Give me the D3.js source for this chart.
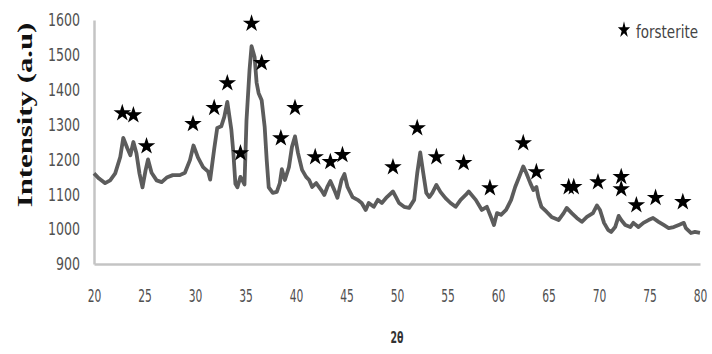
<!DOCTYPE html>
<html>
<head>
<meta charset="utf-8">
<script src="https://cdn.jsdelivr.net/npm/d3@7"></script>
<style>
  body { margin: 0; background: #fff; }
  svg { display: block; }
  .axis text { font-family: "Liberation Sans Narrow", "DejaVu Sans Condensed", sans-serif; font-size: 18px; fill: #505050; }
  .axis .domain { stroke: #c4c4c4; stroke-width: 2.5px; }
</style>
</head>
<body>
<svg width="712" height="354"></svg>
<script>
// diffraction pattern (2theta, intensity)
var twoTheta = [20.0, 20.5, 21.1, 21.6, 22.1, 22.6, 22.9, 23.3, 23.6, 23.9, 24.2, 24.5, 24.8, 25.1, 25.35,
  25.7, 26.2, 26.7, 27.2, 27.8, 28.5, 29.0, 29.5, 29.85, 30.3, 30.8, 31.3, 31.5, 31.9, 32.2,
  32.6, 32.9, 33.2, 33.6, 33.8, 34.0, 34.2, 34.5, 34.7, 34.9, 35.1, 35.4, 35.6, 35.9, 36.1,
  36.3, 36.6, 36.9, 37.1, 37.3, 37.7, 38.1, 38.4, 38.6, 38.9, 39.3, 39.6, 39.9, 40.2, 40.6,
  41.0, 41.3, 41.6, 42.0, 42.5, 42.8, 43.1, 43.4, 43.8, 44.1, 44.5, 44.8, 45.1, 45.6, 46.1,
  46.5, 46.9, 47.2, 47.7, 48.1, 48.5, 49.0, 49.6, 49.9, 50.2, 50.7, 51.2, 51.7, 52.0, 52.3,
  52.6, 52.9, 53.2, 53.5, 53.9, 54.3, 54.8, 55.3, 55.8, 56.3, 56.8, 57.1, 57.8, 58.4, 58.9,
  59.3, 59.6, 59.9, 60.3, 60.8, 61.3, 61.7, 62.1, 62.5, 62.8, 63.2, 63.5, 63.8, 64.0, 64.3,
  64.8, 65.3, 66.0, 66.5, 66.8, 67.3, 67.8, 68.3, 68.8, 69.4, 69.8, 70.1, 70.5, 70.9, 71.2,
  71.6, 71.95, 72.2, 72.6, 73.1, 73.4, 73.9, 74.4, 74.9, 75.35, 75.9, 76.4, 76.9, 77.4, 77.9,
  78.4, 78.6, 79.1, 79.5, 80.0];
var intensity = [1160, 1145, 1132, 1140, 1160, 1207, 1262, 1232, 1212, 1250, 1218, 1160, 1120, 1168, 1200,
  1162, 1140, 1135, 1148, 1155, 1155, 1162, 1198, 1240, 1205, 1178, 1165, 1142, 1230, 1290,
  1295, 1322, 1365, 1285, 1218, 1130, 1120, 1150, 1140, 1128, 1313, 1457, 1525, 1494, 1420,
  1390, 1370, 1293, 1198, 1120, 1104, 1107, 1132, 1172, 1141, 1178, 1236, 1266, 1218, 1170,
  1150, 1141, 1121, 1132, 1112, 1098, 1121, 1138, 1112, 1090, 1140, 1158, 1121, 1092, 1084,
  1075, 1055, 1075, 1064, 1084, 1075, 1092, 1108, 1092, 1075, 1064, 1061, 1084, 1160, 1220,
  1161, 1104, 1092, 1104, 1127, 1107, 1089, 1075, 1064, 1084, 1098, 1108, 1084, 1055, 1064,
  1035, 1012, 1046, 1041, 1055, 1084, 1121, 1150, 1180, 1161, 1132, 1112, 1121, 1092, 1064,
  1050, 1035, 1026, 1046, 1061, 1046, 1032, 1021, 1035, 1046, 1068, 1055, 1018, 998, 992,
  1006, 1038, 1026, 1012, 1006, 1018, 1006, 1018, 1026, 1032, 1021, 1012, 1003, 1006, 1012,
  1018, 1003, 989, 992, 989];

// forsterite peak markers
var starTheta = [22.8, 23.9, 25.2, 29.8, 31.9, 33.2, 34.5, 35.6, 36.6, 38.5, 39.9, 41.9, 43.4, 44.6,
  49.6, 52.0, 53.9, 56.6, 59.2, 62.5, 63.8, 67.0, 67.5, 69.9, 72.2, 72.2, 73.7, 75.6, 78.3];
var starLevel = [1333, 1327, 1238, 1302, 1348, 1419, 1218, 1590, 1477, 1261, 1348, 1207, 1193, 1213,
  1178, 1290, 1207, 1190, 1118, 1247, 1164, 1121, 1121, 1135, 1150, 1115, 1069, 1090, 1078];

var xTicks = [20, 25, 30, 35, 40, 45, 50, 55, 60, 65, 70, 75, 80],
    yTicks = [900, 1000, 1100, 1200, 1300, 1400, 1500, 1600];

var svg = d3.select("svg");

var x = d3.scaleLinear().domain([20, 80]).range([94, 700]),
    y = d3.scaleLinear().domain([900, 1600]).range([264, 20]);

var data = twoTheta.map(function(t, i) { return {t: t, v: intensity[i]}; });
var stars = starTheta.map(function(t, i) { return {t: t, v: starLevel[i]}; });

// the original labels are squeezed sideways, so force their width
function squeeze(sel, perChar) {
  sel.selectAll(".tick text")
      .attr("textLength", function() { return this.textContent.length * perChar; })
      .attr("lengthAdjust", "spacingAndGlyphs");
}

svg.append("g")
    .attr("class", "axis axis--x")
    .attr("transform", "translate(0,264)")
    .call(d3.axisBottom(x).tickValues(xTicks).tickSize(0).tickPadding(25).tickFormat(d3.format("d")))
    .call(squeeze, 6.8);

svg.append("g")
    .attr("class", "axis axis--y")
    .attr("transform", "translate(94,0)")
    .call(d3.axisLeft(y).tickValues(yTicks).tickSize(0).tickPadding(14).tickFormat(d3.format("d")))
    .call(squeeze, 8);

var line = d3.line()
    .x(function(d) { return x(d.t); })
    .y(function(d) { return y(d.v); });

svg.append("path")
    .datum(data)
    .attr("fill", "none")
    .attr("stroke", "#5c5c5c")
    .attr("stroke-width", 3.8)
    .attr("stroke-linejoin", "round")
    .attr("d", line);

var star = d3.symbol().type(d3.symbolStar).size(95);

svg.append("g").selectAll("path")
    .data(stars)
  .enter().append("path")
    .attr("transform", function(d) { return "translate(" + x(d.t) + "," + y(d.v) + ")"; })
    .attr("d", star)
    .attr("fill", "#000");

// legend
svg.append("path")
    .attr("transform", "translate(624,30) scale(0.7,0.95)")
    .attr("d", star)
    .attr("fill", "#000");

svg.append("text")
    .attr("x", 636)
    .attr("y", 38)
    .attr("textLength", 62)
    .attr("lengthAdjust", "spacingAndGlyphs")
    .style("font-family", "'Liberation Sans Narrow', 'DejaVu Sans Condensed', sans-serif")
    .style("font-size", "18px")
    .style("fill", "#444")
    .text("forsterite");

// axis titles
svg.append("text")
    .attr("transform", "translate(32,115) rotate(-90) scale(1.4,1)")
    .attr("text-anchor", "middle")
    .style("font-family", "'Liberation Serif', 'DejaVu Serif', serif")
    .style("font-weight", "bold")
    .style("font-size", "22px")
    .style("fill", "#111")
    .text("Intensity (a.u)");

svg.append("text")
    .attr("x", 397)
    .attr("y", 343)
    .attr("text-anchor", "middle")
    .attr("textLength", 13)
    .attr("lengthAdjust", "spacingAndGlyphs")
    .style("font-family", "'Liberation Sans Narrow', 'DejaVu Sans Condensed', sans-serif")
    .style("font-size", "15px")
    .style("font-weight", "bold")
    .style("fill", "#333")
    .text("2θ");
</script>
</body>
</html>
